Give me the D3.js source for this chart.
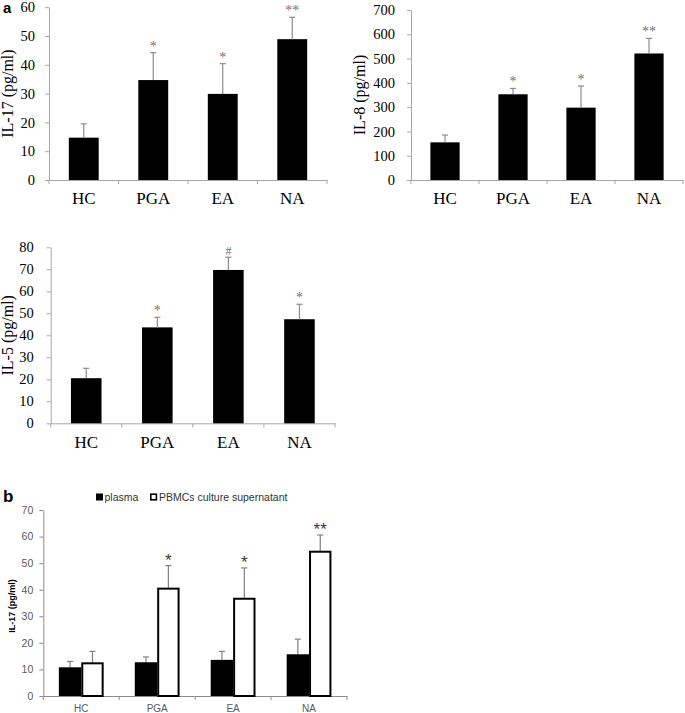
<!DOCTYPE html>
<html>
<head>
<meta charset="utf-8">
<script src="https://cdn.jsdelivr.net/npm/d3@7"></script>
<style>
  body { margin: 0; background: #fff; }
  svg { display: block; }
</style>
</head>
<body>
<script>
var width = 685;
var height = 713;

// groups on every x axis
var categories = ["HC", "PGA", "EA", "NA"];

// panel a, IL-17
var il17Mean = [14.7, 34.7, 29.9, 48.9];
var il17Sd = [4.8, 9.5, 10.5, 7.6];
var il17Marks = ["", "*", "*", "**"];
var il17Ticks = [0, 10, 20, 30, 40, 50, 60];

// panel a, IL-8
var il8Mean = [155, 353, 298, 521];
var il8Sd = [30, 24, 89, 62];
var il8Marks = ["", "*", "*", "**"];
var il8Ticks = [0, 100, 200, 300, 400, 500, 600, 700];

// panel a, IL-5
var il5Mean = [20.5, 43.6, 69.7, 47.3];
var il5Sd = [4.5, 4.6, 5.8, 6.8];
var il5Marks = ["", "*", "#", "*"];
var il5Ticks = [0, 10, 20, 30, 40, 50, 60, 70, 80];

// panel b, IL-17 plasma vs culture supernatant
var seriesNames = ["plasma", "PBMCs culture supernatant"];
var plasmaMean = [10.8, 12.7, 13.6, 15.7];
var plasmaSd = [2.2, 2.0, 3.2, 5.7];
var supMean = [12.3, 40.4, 36.6, 54.3];
var supSd = [4.5, 8.7, 11.6, 6.3];
var supMarks = ["", "*", "*", "**"];
var bTicks = [0, 10, 20, 30, 40, 50, 60, 70];

var svg = d3.select("body")
            .append("svg")
            .attr("width", width)
            .attr("height", height);

var serif = "'Liberation Serif', 'Times New Roman', serif";
var sans = "'Liberation Sans', Arial, sans-serif";

// one-series bar chart in the Times style of panel a
function singlePanel(o) {
  var x = d3.scaleBand().domain(categories)
            .range([o.left, o.right])
            .paddingInner(0.57).paddingOuter(0.285);
  var y = d3.scaleLinear().domain([0, o.ticks[o.ticks.length - 1]])
            .range([o.bottom, o.top]);

  var yAxis = svg.append("g")
                 .attr("font-family", serif)
                 .attr("transform", `translate(${o.left},0)`)
                 .call(d3.axisLeft(y).tickValues(o.ticks).tickSizeInner(4).tickSizeOuter(0).tickPadding(o.pad));
  yAxis.attr("font-family", serif);
  yAxis.selectAll("path, line").attr("stroke", "#a6a6a6");
  yAxis.selectAll("text").attr("font-size", 14.5).attr("fill", "#000");

  var xAxis = svg.append("g")
                 .attr("transform", `translate(0,${o.bottom})`)
                 .call(d3.axisBottom(x).tickSize(0).tickSizeOuter(0).tickPadding(0));
  xAxis.attr("font-family", serif);
  xAxis.select(".domain").attr("stroke", "#a6a6a6");
  xAxis.selectAll("text").attr("font-size", 17)
       .attr("fill", "#000").attr("dy", null).attr("y", o.labelY - o.bottom);

  // boundary ticks between groups
  svg.selectAll(null)
     .data(d3.range(categories.length + 1))
     .enter().append("line")
     .attr("x1", function(i) { return o.left + i * x.step(); })
     .attr("x2", function(i) { return o.left + i * x.step(); })
     .attr("y1", o.bottom).attr("y2", o.bottom + 4)
     .attr("stroke", "#a6a6a6");

  svg.selectAll(null)
     .data(categories)
     .enter().append("rect")
     .attr("x", function(d) { return x(d); })
     .attr("y", function(d, i) { return y(o.mean[i]); })
     .attr("width", x.bandwidth())
     .attr("height", function(d, i) { return o.bottom - y(o.mean[i]); })
     .attr("fill", "#000");

  var err = svg.append("g").attr("stroke", "#8c8c8c").attr("stroke-width", 1.2);
  categories.forEach(function(c, i) {
    var cx = x(c) + x.bandwidth() / 2;
    err.append("line").attr("x1", cx).attr("x2", cx)
       .attr("y1", y(o.mean[i])).attr("y2", y(o.mean[i] + o.sd[i]));
    err.append("line").attr("x1", cx - 3).attr("x2", cx + 3)
       .attr("y1", y(o.mean[i] + o.sd[i])).attr("y2", y(o.mean[i] + o.sd[i]));
    svg.append("text")
       .attr("x", cx)
       .attr("y", y(o.mean[i] + o.sd[i]) - 2)
       .attr("text-anchor", "middle")
       .attr("font-family", serif)
       .attr("font-size", o.marks[i] === "#" ? 12 : 14)
       .attr("fill", "#707070")
       .text(o.marks[i]);
  });

  svg.append("text")
     .attr("transform", `translate(${o.titleX},${(o.top + o.bottom) / 2}) rotate(-90)`)
     .attr("text-anchor", "middle")
     .attr("font-family", serif)
     .attr("font-size", 16)
     .text(o.title);
}

singlePanel({ left: 49, right: 327, top: 7.2, bottom: 180, pad: 10, labelY: 204, titleX: 13,
              mean: il17Mean, sd: il17Sd, marks: il17Marks, ticks: il17Ticks, title: "IL-17 (pg/ml)" });
singlePanel({ left: 411, right: 683, top: 10, bottom: 180, pad: 12, labelY: 204, titleX: 365,
              mean: il8Mean, sd: il8Sd, marks: il8Marks, ticks: il8Ticks, title: "IL-8 (pg/ml)" });
singlePanel({ left: 50.7, right: 335, top: 247.3, bottom: 423.3, pad: 13, labelY: 448, titleX: 13,
              mean: il5Mean, sd: il5Sd, marks: il5Marks, ticks: il5Ticks, title: "IL-5 (pg/ml)" });

svg.append("text").attr("x", 3).attr("y", 13)
   .attr("font-family", sans).attr("font-weight", "bold").attr("font-size", 15)
   .text("a");

// panel b, grouped bars
var bLeft = 43.3, bRight = 347, bTop = 510, bBottom = 696;
var xb = d3.scaleBand().domain(categories).range([bLeft, bRight])
           .paddingInner(0.41).paddingOuter(0.205);
var xs = d3.scaleBand().domain(seriesNames).range([0, xb.bandwidth()]);
var yb = d3.scaleLinear().domain([0, 70]).range([bBottom, bTop]);

var byAxis = svg.append("g")
                .attr("transform", `translate(${bLeft},0)`)
                .call(d3.axisLeft(yb).tickValues(bTicks).tickSizeInner(4).tickSizeOuter(0).tickPadding(6));
byAxis.attr("font-family", sans);
byAxis.selectAll("path, line").attr("stroke", "#8c8c8c");
byAxis.selectAll("text").attr("font-size", 10.5).attr("fill", "#595959");

var bxAxis = svg.append("g")
                .attr("transform", `translate(0,${bBottom})`)
                .call(d3.axisBottom(xb).tickSize(0).tickSizeOuter(0).tickPadding(0));
bxAxis.attr("font-family", sans);
bxAxis.select(".domain").attr("stroke", "#8c8c8c");
bxAxis.selectAll("text").attr("font-size", 10)
      .attr("fill", "#595959").attr("dy", null).attr("y", 16);

svg.selectAll(null)
   .data(d3.range(categories.length + 1))
   .enter().append("line")
   .attr("x1", function(i) { return bLeft + i * xb.step(); })
   .attr("x2", function(i) { return bLeft + i * xb.step(); })
   .attr("y1", bBottom).attr("y2", bBottom + 4)
   .attr("stroke", "#8c8c8c");

var bSeries = [
  { name: seriesNames[0], mean: plasmaMean, sd: plasmaSd, marks: ["", "", "", ""], fill: "#000" },
  { name: seriesNames[1], mean: supMean, sd: supSd, marks: supMarks, fill: "#fff" }
];

bSeries.forEach(function(s) {
  categories.forEach(function(c, i) {
    var bx = xb(c) + xs(s.name);
    var cx = bx + xs.bandwidth() / 2;
    var top = yb(s.mean[i] + s.sd[i]);
    svg.append("line").attr("x1", cx).attr("x2", cx)
       .attr("y1", yb(s.mean[i])).attr("y2", top)
       .attr("stroke", "#808080").attr("stroke-width", 1.2);
    svg.append("line").attr("x1", cx - 3).attr("x2", cx + 3)
       .attr("y1", top).attr("y2", top)
       .attr("stroke", "#808080").attr("stroke-width", 1.2);
    svg.append("rect")
       .attr("x", bx + (s.fill === "#fff" ? 1 : 0))
       .attr("y", yb(s.mean[i]))
       .attr("width", xs.bandwidth() - (s.fill === "#fff" ? 2 : 0))
       .attr("height", bBottom - yb(s.mean[i]))
       .attr("fill", s.fill)
       .attr("stroke", "#000")
       .attr("stroke-width", s.fill === "#fff" ? 2 : 0);
    svg.append("text")
       .attr("x", cx).attr("y", top + 0.5)
       .attr("text-anchor", "middle")
       .attr("font-family", sans).attr("font-size", 17)
       .attr("fill", "#3a3a3a")
       .text(s.marks[i]);
  });
});

svg.append("text")
   .attr("transform", `translate(15,${(bTop + bBottom) / 2 + 3}) rotate(-90)`)
   .attr("text-anchor", "middle")
   .attr("font-family", sans).attr("font-weight", "bold").attr("font-size", 9)
   .text("IL-17 (pg/ml)");

svg.append("text").attr("x", 3).attr("y", 502)
   .attr("font-family", sans).attr("font-weight", "bold").attr("font-size", 17)
   .text("b");

// legend
var legend = svg.append("g");
legend.append("rect").attr("x", 96).attr("y", 493.5).attr("width", 7).attr("height", 7).attr("fill", "#000");
legend.append("text").attr("x", 104.5).attr("y", 500.5)
      .attr("font-family", sans).attr("font-size", 10.5).attr("fill", "#333")
      .text(seriesNames[0]);
legend.append("rect").attr("x", 150.8).attr("y", 494.2).attr("width", 5.6).attr("height", 5.6)
      .attr("fill", "#fff").attr("stroke", "#000").attr("stroke-width", 1.6);
legend.append("text").attr("x", 159).attr("y", 500.5)
      .attr("font-family", sans).attr("font-size", 10.5).attr("fill", "#333")
      .text(seriesNames[1]);
</script>
</body>
</html>
